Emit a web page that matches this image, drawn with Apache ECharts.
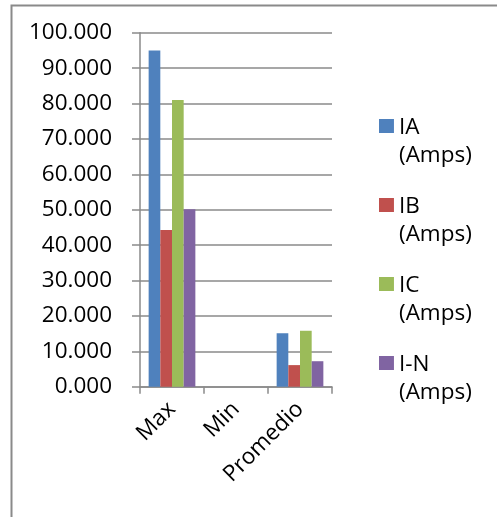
<!DOCTYPE html>
<html>
<head>
<meta charset="utf-8">
<script src="https://cdn.jsdelivr.net/npm/echarts@6/dist/echarts.min.js"></script>
<style>
  html, body { margin: 0; padding: 0; background: #fff; }
  #chart { width: 497px; height: 517px; }
</style>
</head>
<body>
<div id="chart"></div>
<script>
// Current readings per phase (Amps)
const categories = ['Max', 'Min', 'Promedio'];
const seriesNames = ['IA\n(Amps)', 'IB\n(Amps)', 'IC\n(Amps)', 'I-N\n(Amps)'];
const iaValues = [95.0, 0, 15.1];
const ibValues = [44.3, 0, 6.1];
const icValues = [81.0, 0, 15.8];
const inValues = [50.1, 0, 7.2];
const seriesColors = ['#4F81BD', '#C0504D', '#9BBB59', '#8064A2'];

const FONT = 'Open Sans';
const FONT_SIZE = 22.5;
const AXIS_GREY = '#8a8a8a';

// Legend icon: a square in the top part of a tall box so it sits beside the first text line
const legendIcon = 'path://M0,0h15v14h-15z M15,45h0.05v0.05h-0.05z';

const valueSets = [iaValues, ibValues, icValues, inValues];

const chart = echarts.init(document.getElementById('chart'), null, { renderer: 'canvas' });

chart.setOption({
  animation: false,
  backgroundColor: '#ffffff',
  textStyle: { fontFamily: FONT },
  graphic: [{
    type: 'rect',
    left: 9, top: 3,
    shape: { width: 600, height: 600 },
    style: { fill: 'none', stroke: AXIS_GREY, lineWidth: 2 },
    silent: true
  }],
  grid: { left: 140, right: 165, top: 32.7, bottom: 130.3, containLabel: false },
  legend: {
    orient: 'vertical',
    left: 374,
    top: 108,
    itemWidth: 15,
    itemHeight: 46,
    itemGap: 22,
    icon: legendIcon,
    textStyle: { fontFamily: FONT, fontSize: FONT_SIZE, color: '#000', lineHeight: 28.5 },
    data: seriesNames
  },
  xAxis: {
    type: 'category',
    data: categories,
    axisLine: { lineStyle: { color: AXIS_GREY, width: 1.5 } },
    axisTick: { show: true, length: 7, alignWithLabel: false, lineStyle: { color: AXIS_GREY, width: 1.5 } },
    axisLabel: { rotate: 45, margin: 19, fontFamily: FONT, fontSize: FONT_SIZE, color: '#000', interval: 0 }
  },
  yAxis: {
    type: 'value',
    min: 0, max: 100, interval: 10,
    axisLine: { show: true, lineStyle: { color: AXIS_GREY, width: 1.5 } },
    axisTick: { show: true, length: 8, lineStyle: { color: AXIS_GREY, width: 1.5 } },
    splitLine: { show: true, lineStyle: { color: AXIS_GREY, width: 1.5 } },
    axisLabel: {
      margin: 28,
      fontFamily: FONT, fontSize: FONT_SIZE, color: '#000',
      formatter: v => v.toFixed(3)
    }
  },
  series: seriesNames.map((name, i) => ({
    name,
    type: 'bar',
    data: valueSets[i],
    barGap: '0%',
    barCategoryGap: '27%',
    itemStyle: { color: seriesColors[i] }
  }))
});
</script>
</body>
</html>
